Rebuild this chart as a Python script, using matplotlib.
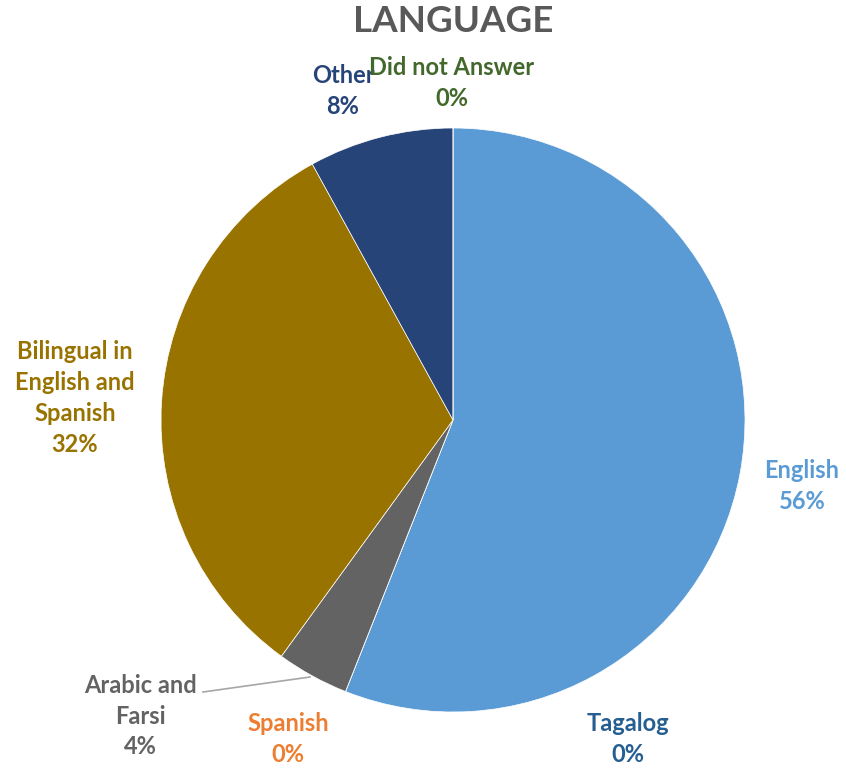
import matplotlib.pyplot as plt

# data (clockwise from 12 o'clock)
categories = ['English', 'Tagalog', 'Spanish', 'Arabic and\nFarsi',
              'Bilingual in\nEnglish and\nSpanish', 'Other', 'Did not Answer']
shares = [56, 0, 0, 4, 32, 8, 0]
colors = ['#5B9BD5', '#255E91', '#ED7D31', '#636363', '#997300', '#264478', '#43682B']

# label centres in pixel coords (from top-left)
label_pos = [(802, 486), (628, 739), (288, 739), (140, 716),
             (75, 398), (343, 91), (452, 83)]

W, H = 846, 771
fig = plt.figure(figsize=(W / 100, H / 100), dpi=100)
ax = fig.add_axes([0, 0, 1, 1])

ax.pie(shares, colors=colors, startangle=90, counterclock=False,
       center=(453, H - 420), radius=292,
       wedgeprops=dict(linewidth=0.5, edgecolor='white'))
ax.set_xlim(0, W)
ax.set_ylim(0, H)
ax.set_aspect('equal')
ax.axis('off')

for cat, val, col, (x, y) in zip(categories, shares, colors, label_pos):
    ax.text(x, H - y, f'{cat}\n{val}%', color=col, ha='center', va='center',
            fontsize=17, fontweight='bold', family='Lato', linespacing=1.42)

# leader line for the small slice
ax.plot([203, 310], [H - 692, H - 677], color='#A6A6A6', lw=1.2)

ax.text(453, H - 22, 'LANGUAGE', ha='center', va='center', color='#595959',
        fontsize=26.5, fontweight='bold', family='Lato')

fig.savefig('out.png', dpi=100)
